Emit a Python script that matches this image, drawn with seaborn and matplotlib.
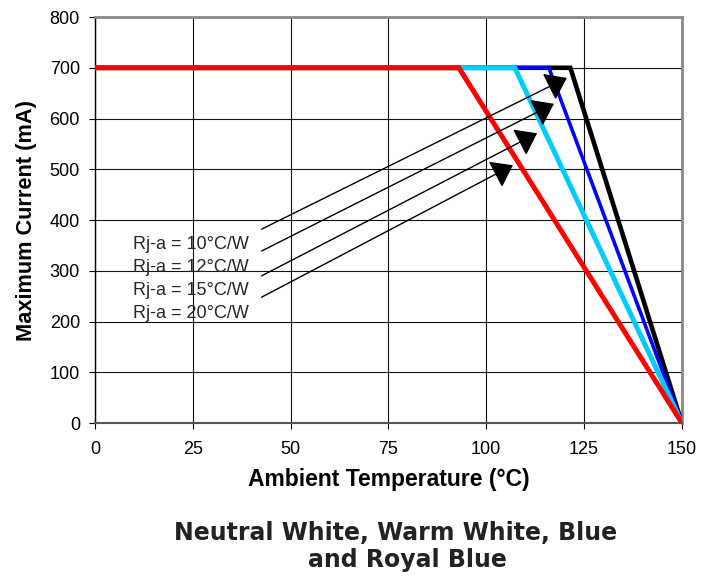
import matplotlib
matplotlib.use("Agg")
import matplotlib.pyplot as plt
import seaborn as sns
import pandas as pd
from matplotlib.patches import Rectangle

# Data
series_names = ["Rj-a = 10°C/W", "Rj-a = 12°C/W", "Rj-a = 15°C/W", "Rj-a = 20°C/W"]
temps_10 = [0, 121.5, 150]
curr_10 = [700, 700, 0]
temps_12 = [0, 116, 150]
curr_12 = [700, 700, 0]
temps_15 = [0, 107.3, 150]
curr_15 = [700, 700, 0]
temps_20 = [0, 93, 150]
curr_20 = [700, 700, 0]
x_ticks = [0, 25, 50, 75, 100, 125, 150]
y_ticks = [0, 100, 200, 300, 400, 500, 600, 700, 800]
title_lines = ["Neutral White, Warm White, Blue", "and Royal Blue"]

# arrow geometry (data coordinates)
arrow_starts = [(42.6, 382), (42.6, 339), (42.6, 290), (42.6, 248)]
arrow_tips = [(120.6, 680), (117.3, 629), (113.0, 571), (106.8, 508)]
label_pos = [(9.7, 343), (9.7, 297.5), (9.7, 252), (9.7, 207)]

rows = []
for name, xs, ys in zip(series_names,
                        [temps_10, temps_12, temps_15, temps_20],
                        [curr_10, curr_12, curr_15, curr_20]):
    for x, y in zip(xs, ys):
        rows.append({"series": name, "temp": x, "current": y})
df = pd.DataFrame(rows)

sns.set_style("white")
plt.rcParams["font.family"] = ["Liberation Sans", "DejaVu Sans"]

fig = plt.figure(figsize=(7.14, 5.83), dpi=100)
ax = fig.add_axes([0.133, 0.2744, 0.822, 0.6964])

colors = {"Rj-a = 10°C/W": "#000000", "Rj-a = 12°C/W": "#0000FF",
          "Rj-a = 15°C/W": "#00CCFF", "Rj-a = 20°C/W": "#FF0000"}
widths = {"Rj-a = 10°C/W": 3.3, "Rj-a = 12°C/W": 2.6,
          "Rj-a = 15°C/W": 3.6, "Rj-a = 20°C/W": 3.6}
for name in series_names:
    sub = df[df["series"] == name]
    sns.lineplot(data=sub, x="temp", y="current", color=colors[name],
                 lw=widths[name], ax=ax, sort=False, estimator=None,
                 solid_joinstyle="miter", zorder=3)

ax.set_xlim(0, 150)
ax.set_ylim(0, 800)
ax.set_xticks(x_ticks)
ax.set_yticks(y_ticks)
ax.grid(True, color="#111111", lw=0.8)
ax.set_axisbelow(True)
ax.tick_params(axis="both", labelsize=13, length=4.3, width=0.8, color="black",
               labelcolor="black", direction="out", bottom=True, left=True)
ax.tick_params(axis="x", pad=9)
ax.tick_params(axis="y", pad=6.5)

for s in ["top", "right"]:
    ax.spines[s].set_color("#888888")
    ax.spines[s].set_linewidth(2.0)
ax.spines["left"].set_color("#000000")
ax.spines["left"].set_linewidth(1.0)
ax.spines["bottom"].set_color("#555555")
ax.spines["bottom"].set_linewidth(1.5)

ax.set_xlabel("Ambient Temperature (°C)", fontsize=16.5, fontweight="bold",
              labelpad=7, color="black")
ax.set_ylabel("Maximum Current (mA)", fontsize=15.7, fontweight="bold",
              labelpad=9, color="black")

for (sx, sy), (tx, ty) in zip(arrow_starts, arrow_tips):
    ax.annotate("", xy=(tx, ty), xytext=(sx, sy),
                arrowprops=dict(arrowstyle="-|>,head_length=0.4,head_width=0.29",
                                color="black", lw=1.0,
                                mutation_scale=32, shrinkA=0, shrinkB=0),
                zorder=5)

clip = Rectangle((0, 209.5), 150, 600, transform=ax.transData)
for name, (lx, ly) in zip(series_names, label_pos):
    t = ax.text(lx, ly, name, fontsize=13, ha="left", va="baseline", zorder=5)
    t.set_clip_path(clip)

fig.text(396 / 714, 1 - 540 / 583, title_lines[0], ha="center", va="baseline",
         fontsize=17, fontweight="bold", family="DejaVu Sans", color="#222222")
fig.text(407 / 714, 1 - 567 / 583, title_lines[1], ha="center", va="baseline",
         fontsize=17, fontweight="bold", family="DejaVu Sans", color="#222222")

fig.savefig("out.png", dpi=100)
